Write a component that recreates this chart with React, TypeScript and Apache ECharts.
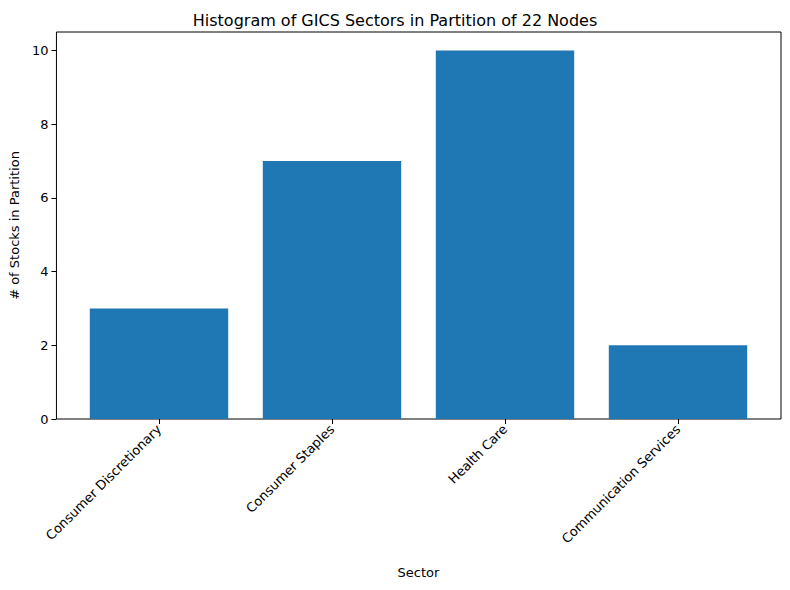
import React, { useEffect, useRef } from 'react';
import * as echarts from 'echarts';

const sectors = ['Consumer Discretionary', 'Consumer Staples', 'Health Care', 'Communication Services'];
const counts = [3, 7, 10, 2];
const yTicks = [0, 2, 4, 6, 8, 10];

const font = 'DejaVu Sans, sans-serif';

const App: React.FC = () => {
    const chartRef = useRef<HTMLDivElement>(null);

    useEffect(() => {
        document.body.style.margin = '0';
        const chart = echarts.init(chartRef.current!, undefined, { renderer: 'svg' });
        const options: echarts.EChartsOption = {
            animation: false,
            textStyle: { fontFamily: font },
            title: {
                text: 'Histogram of GICS Sectors in Partition of 22 Nodes',
                left: 'center',
                top: 7,
                textStyle: { fontFamily: font, fontSize: 16, fontWeight: 'normal', color: '#000' },
            },
            grid: [
                { left: 56, right: 9, top: 32, bottom: 171, show: true, borderColor: '#000', borderWidth: 1 },
                { left: 72.5, right: 25.5, top: 32, bottom: 171 },
            ],
            xAxis: [
                { gridIndex: 0, type: 'value', show: false, min: 0, max: 1 },
                {
                    gridIndex: 1,
                    type: 'category',
                    data: sectors,
                    name: 'Sector',
                    nameLocation: 'middle',
                    nameGap: 147,
                    nameTextStyle: { fontFamily: font, fontSize: 13, color: '#000' },
                    axisLine: { show: false },
                    axisTick: { show: true, alignWithLabel: true, length: 5, lineStyle: { color: '#000' } },
                    axisLabel: { rotate: 45, fontSize: 13, color: '#000', margin: 8, interval: 0 },
                },
            ],
            yAxis: [
                {
                    gridIndex: 0,
                    type: 'value',
                    min: 0,
                    max: 10.5,
                    interval: 2,
                    name: '# of Stocks in Partition',
                    nameLocation: 'middle',
                    nameGap: 34,
                    nameTextStyle: { fontFamily: font, fontSize: 13, color: '#000' },
                    axisLine: { show: false },
                    axisTick: { show: true, length: 5, lineStyle: { color: '#000' } },
                    axisLabel: {
                        fontSize: 13,
                        color: '#000',
                        showMaxLabel: false,
                        formatter: (v: number) => (yTicks.includes(v) ? String(v) : ''),
                    },
                    splitLine: { show: false },
                },
                { gridIndex: 1, type: 'value', show: false, min: 0, max: 10.5, splitLine: { show: false } },
            ],
            series: [
                {
                    type: 'bar',
                    xAxisIndex: 1,
                    yAxisIndex: 1,
                    data: counts,
                    barWidth: '80%',
                    itemStyle: { color: '#1f77b4' },
                },
            ],
        };
        chart.setOption(options);
        return () => {
            chart.dispose();
        };
    }, []);

    return <div ref={chartRef} style={{ width: 790, height: 590 }} />;
};

export default App;
